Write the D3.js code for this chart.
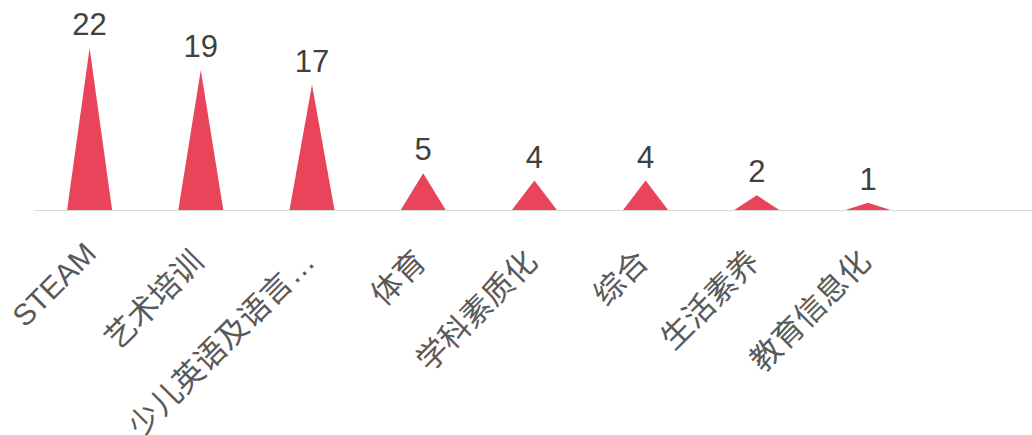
<!DOCTYPE html>
<html>
<head>
<meta charset="utf-8">
<script src="https://cdn.jsdelivr.net/npm/d3@7"></script>
<style>
  html, body { margin: 0; padding: 0; background: #fff; }
  svg { display: block; }
</style>
</head>
<body>
<svg id="chart" width="1032" height="435"></svg>
<script>
// Course categories and the number of institutions in each
const categories = ["STEAM", "艺术培训", "少儿英语及语言…", "体育", "学科素质化", "综合", "生活素养", "教育信息化"];
const counts = [22, 19, 17, 5, 4, 4, 2, 1];

const W = 1032, H = 435;
const left = 34, baseY = 210, topY = 48, step = 111.2;
const peakW = 45;
const fontStack = "'Liberation Sans', Arial, 'Noto Sans CJK SC', sans-serif";

const svg = d3.select("#chart");

const x = d3.scaleBand()
  .domain(categories)
  .range([left, left + step * categories.length])
  .padding(0);

const y = d3.scaleLinear()
  .domain([0, d3.max(counts)])
  .range([baseY, topY]);

const data = categories.map((c, i) => ({ name: c, value: counts[i] }));

// baseline
svg.append("line")
  .attr("x1", left).attr("x2", W)
  .attr("y1", baseY + 0.5).attr("y2", baseY + 0.5)
  .attr("stroke", "#d9d9d9").attr("stroke-width", 1);

// peak-shaped bars
svg.append("g").selectAll("path")
  .data(data)
  .join("path")
  .attr("d", d => {
    const cx = x(d.name) + x.bandwidth() / 2;
    return `M${cx - peakW / 2},${baseY} L${cx},${y(d.value)} L${cx + peakW / 2},${baseY} Z`;
  })
  .attr("fill", "#e9445a");

// value labels
svg.append("g").selectAll("text")
  .data(data)
  .join("text")
  .attr("x", d => x(d.name) + x.bandwidth() / 2)
  .attr("y", d => y(d.value) - 13)
  .attr("text-anchor", "middle")
  .attr("font-family", fontStack)
  .attr("font-size", 31)
  .attr("fill", "#404040")
  .text(d => d.value);

// category axis labels, rotated; CJK glyphs sit a little lower
const hasCJK = s => /[\u3400-\u9fff]/.test(s);
const axis = d3.axisBottom(x).tickSize(0).tickPadding(0);
const gAxis = svg.append("g")
  .attr("transform", `translate(0,${baseY})`)
  .call(axis);
gAxis.select(".domain").remove();
gAxis.selectAll(".tick text")
  .attr("font-family", fontStack)
  .attr("font-size", d => hasCJK(d) ? 31 : 30)
  .attr("fill", "#595959")
  .attr("text-anchor", "end")
  .attr("dy", "0.35em")
  .attr("transform", d => `translate(${hasCJK(d) ? -3 : 1},${hasCJK(d) ? 46 : 38}) rotate(-45)`);
</script>
</body>
</html>
